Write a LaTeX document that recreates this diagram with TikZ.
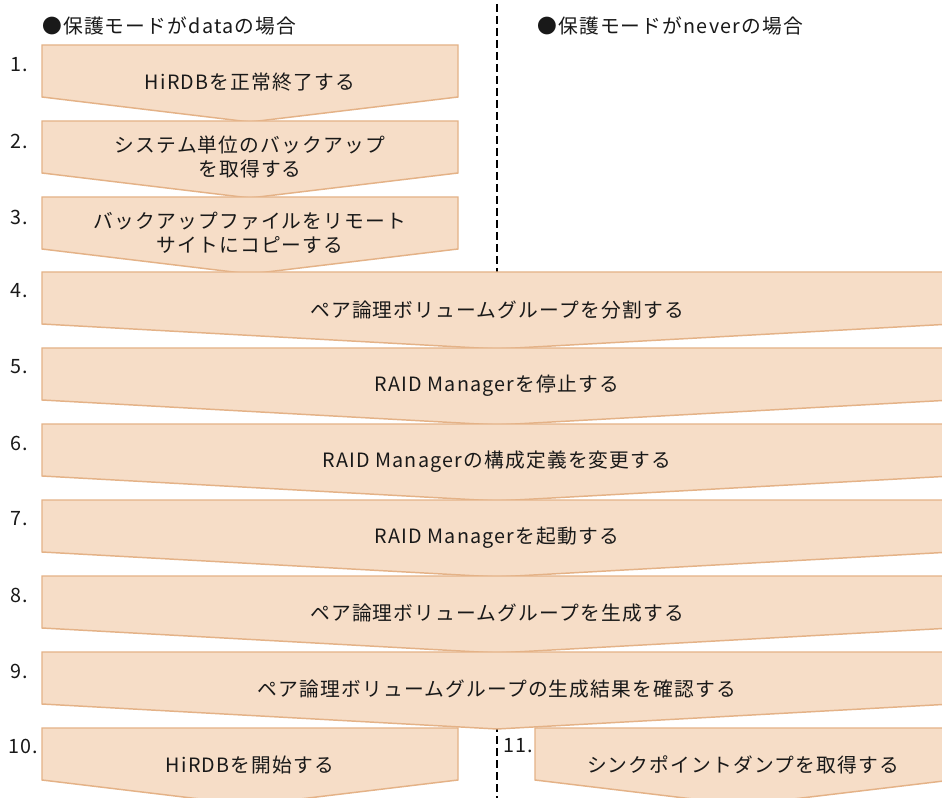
\documentclass[tikz,border=0pt]{standalone}
\usepackage{fontspec}
\setmainfont{Noto Sans CJK JP}
\newfontfamily\jpfont[LetterSpace=6]{Noto Sans CJK JP}
\definecolor{stepfill}{RGB}{246,221,199}
\definecolor{stepline}{RGB}{228,178,135}
\definecolor{txt}{RGB}{25,25,25}
\newcommand\chevron[5]{%
  \path[stepshape] (#2,#4) -- (#3,#4) -- (#3,#4+52) -- (#5,#4+77) -- (#2,#4+52) -- cycle;
  \coordinate (#1) at (#5,#4+77);}
\begin{document}
\begin{tikzpicture}[x=0.75pt,y=-0.75pt,
  stepshape/.style={fill=stepfill,draw=stepline,line width=1.1pt,line join=miter},
  lbl/.style={font=\jpfont\fontsize{14.8}{18}\selectfont,text=txt,align=center,inner sep=0pt},
  num/.style={font=\jpfont\fontsize{14.8}{18}\selectfont,text=txt,anchor=west,inner sep=0pt},
  head/.style={font=\jpfont\fontsize{14.8}{18}\selectfont,text=txt,anchor=west,inner sep=0pt},
  divider/.style={line width=1.5pt,dash pattern=on 6pt off 3pt}]
\path[use as bounding box] (0,0) rectangle (942,798);
\clip (0,0) rectangle (942,798);
\fill[white] (0,0) rectangle (942,798);
% divider
\coordinate (dtop) at (497,4);
\coordinate (dbot) at (497,798);
\draw[divider] (dtop) -- (dbot);
% headers
\node[head] (h1) at (42,26) {●保護モードがdataの場合};
\node[head] (h2) at (537,26) {●保護モードがneverの場合};
% shapes
\chevron{p1}{42}{458}{45}{250}
\chevron{p2}{42}{458}{121}{250}
\chevron{p3}{42}{458}{197}{250}
\chevron{p4}{42}{952}{272}{497}
\chevron{p5}{42}{952}{348}{497}
\chevron{p6}{42}{952}{424}{497}
\chevron{p7}{42}{952}{500}{497}
\chevron{p8}{42}{952}{576}{497}
\chevron{p9}{42}{952}{652}{497}
\chevron{p10}{42}{458}{728}{250}
\chevron{p11}{535}{952}{728}{743}
% texts
\node[lbl] (t1) at (250,82) {HiRDBを正常終了する};
\node[lbl] (t2) at (250,157) {システム単位のバックアップ\\を取得する};
\node[lbl] (t3) at (250,233) {バックアップファイルをリモート\\サイトにコピーする};
\node[lbl] (t4) at (497,310) {ペア論理ボリュームグループを分割する};
\node[lbl] (t5) at (497,386) {RAID Managerを停止する};
\node[lbl] (t6) at (497,462) {RAID Managerの構成定義を変更する};
\node[lbl] (t7) at (497,538) {RAID Managerを起動する};
\node[lbl] (t8) at (497,613) {ペア論理ボリュームグループを生成する};
\node[lbl] (t9) at (497,689) {ペア論理ボリュームグループの生成結果を確認する};
\node[lbl] (t10) at (250,765) {HiRDBを開始する};
\node[lbl] (t11) at (743,765) {シンクポイントダンプを取得する};
% numbers
\node[num] (n1) at (10,65) {1.};
\node[num] (n2) at (10,141) {2.};
\node[num] (n3) at (10,217) {3.};
\node[num] (n4) at (10,291) {4.};
\node[num] (n5) at (10,367) {5.};
\node[num] (n6) at (10,443) {6.};
\node[num] (n7) at (10,519) {7.};
\node[num] (n8) at (10,595) {8.};
\node[num] (n9) at (10,671) {9.};
\node[num] (n10) at (8,746) {10.};
\node[num] (n11) at (503,746) {11.};
\end{tikzpicture}
\end{document}
